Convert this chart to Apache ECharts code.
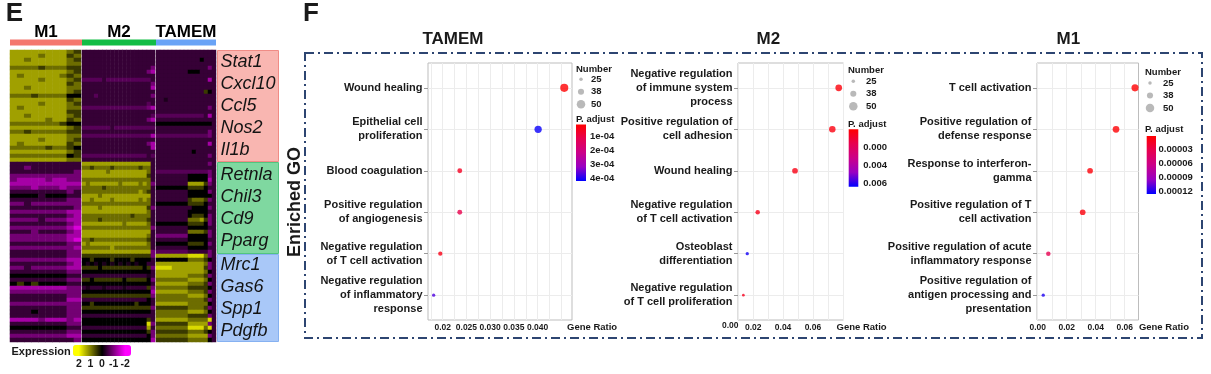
<!DOCTYPE html>
<html><head><meta charset="utf-8">
<script src="https://cdn.jsdelivr.net/npm/echarts@6/dist/echarts.min.js"></script>
<style>html,body{margin:0;padding:0;background:#fff}#c{width:1211px;height:374px}</style>
</head><body><div id="c"></div><script>
const FONT = "'Liberation Sans', Arial, Helvetica, sans-serif";
const INK = '#1a1a1a';

// ================= Panel E data =================
const clusterNames = ['M1', 'M2', 'TAMEM'];
const clusterShare = [72, 74, 60];
const clusterColors = ['#f4776e', '#12bd45', '#69a3f6'];
const geneBlockRows = [28, 23, 22];
const geneBlockGenes = [['Stat1', 'Cxcl10', 'Ccl5', 'Nos2', 'Il1b'], ['Retnla', 'Chil3', 'Cd9', 'Pparg'], ['Mrc1', 'Gas6', 'Spp1', 'Pdgfb']];
const geneBlockFill = ['#f9b6b1', '#7fd8a0', '#a9c8f8'];
const geneBlockLine = ['#f08c86', '#52c57f', '#86b1f1'];
const expressionTicks = [2, 1, 0, -1, -2];
// scaled expression
const levelOf = {'0': -1.7, '1': -1.3, '2': -0.9, 'p': -0.68, '3': -0.42, 'd': -0.22, '4': 0, '5': 0.45, '6': 0.85, '7': 1.25, '8': 1.7};

const heatM1Rows = [
"7777777765","7777677756","7767777765","7777777766","6666566655","7777777765","7677777656",
"7777677765","7777777756","7767777766","7777777765","6665666644","7777777756","7777677765",
"7677777766","7777777755","7767777765","7777767756","6666666544","7777777765","6656666655",
"7777777766","7777677765","7677777756","6666656654","7777777765","6666666645","7777777766",
"3333333333","3323333333","3333333332","2222222222","2111121122","1111111111","2221222122",
"3333333323","4444344433","3333333322","2232222222","3333333332","2222222211","3333333321",
"2222322211","3333333321","2222222210","3332333321","2222222211","2222222210","3333333322",
"2222222221","3333333322",
"3333333322","2222222211","3333333321","2232222211","3333333322","4444444433","3333333322",
"4545444433","1111111122","2222222222","3333333322","3333333311","2222222222","3333333322",
"3334333322","3333333322","1111211121","3333333322","4444444433","3333333322","2222222211",
"3333333332"
];
const heatM2Rows = [
"3333333333333333|33","3333333333333333|33","3333333333333333|33","3333333333333333|33",
"3333333333333333|32","3333333333333333|21","3333333333333333|33","ppppp3pppppppppp|p3",
"3333333333333333|32","3333333333333333|31","3333333333333333|33","333p333333333333|32",
"3333333333333333|33","3333333333333333|p3","pppppppppppppppp|21","3333333333333333|33",
"3333333333333333|3p","3333333333333333|21","3333333333333333|33","ppppppp3pppppppp|pp",
"3333333333333333|33","pppppppppppppppp|p1","3333333333333333|33","3333333333333333|21",
"3333333333333333|31","3333333333333333|33","pppppppppppppppp|3p","3333333333333333|33",
"7777777777777777|73","6656666566666656|63","7777776777777777|63","7777777777777777|53",
"6666666666666666|63","7677777776777767|62","6666656666666666|63","6666666666666676|53",
"7777677777777777|73","7767777677777767|63","6666666666666666|63","7777677777777777|52",
"7777777777777777|63","6666666666665666|63","6666566666666666|53","7777777777677777|63",
"6666666666666666|62","7777777777777777|73","7777777777777777|63","6656666666666666|53",
"7677777777777777|63","6666666766666666|63","7777777777777777|72",
"5555555555555555|52","4454444544445444|43","4d4d4d4d4d4d4d44|33","5555455555555554|52",
"4444444444444444|43","3333333333333333|d3","5545555555455555|42","4444444444444444|43",
"3d333d3333d33333|52","4444444444444444|41","5555555555555555|52","3333333333333333|43",
"4454444444444544|43","5555555555555555|52","4444444444444444|43","3333333333333333|33",
"4444444444444444|53","4444444444444444|82","3333333333333333|73","4444444444444444|52",
"3333333333333333|42","4444444444444444|41"
];
const heatTAMEMRows = [
"33333333|3333|333","33333333|3333|333","33333333|3334|333","33333333|3333|333",
"33333333|3333|323","33333333|4443|333","33333333|3333|333","33333333|3333|313",
"33333333|3333|333","33333333|3333|333","33333333|3333|543","33333333|3333|333",
"33d33333|3333|333","33333333|3333|333","33333333|3333|323","33333333|3333|333",
"pppppppp|pppp|313","33333333|3333|333","44444444|4444|443","33333333|3333|333",
"33333333|3333|323","pppppppp|pppp|p23","33333333|3333|333","33333333|3333|313",
"33333333|3333|333","33333333|3433|333","33333333|3333|323","33333333|3333|333",
"33333333|3333|323","33333333|3333|333","pppppppp|pppp|p23","33333333|4444|423",
"33333333|4444|413","33333333|7777|523","44444444|5555|433","33333333|4444|423",
"33333333|4444|443","33333333|5666|523","44444444|5555|433","33333333|3444|423",
"33333333|4444|433","33333333|4555|423","33333333|6667|523","44444444|5555|423",
"33333333|4444|433","33333333|6666|523","22222222|4444|423","33333333|4444|433",
"44444444|5555|423","33333333|4444|433","pppppppp|3333|323",
"77777777|8888|623","44444444|6666|543","77777777|7777|623","88887777|7777|523",
"77777777|7777|643","77777777|6666|523","66666666|7777|643","77777777|6666|523",
"66666666|5555|543","77777777|6666|523","66666666|7777|643","66666666|6666|523",
"77777777|6666|643","55555555|6666|523","66666666|7777|643","66666666|5555|523",
"77777777|6666|683","55555555|7777|723","66666666|8888|683","55555555|6666|543",
"66666666|7777|723","55555555|6666|643"
];

// ================= Panel F data =================
const keyCounts = [25, 38, 50];

const tamemTerms = ['Wound healing', 'Epithelial cell\nproliferation', 'Blood coagulation',
  'Positive regulation\nof angiogenesis', 'Negative regulation\nof T cell activation',
  'Negative regulation\nof inflammatory\nresponse'];
const tamemRatio = [0.0456, 0.0401, 0.0236, 0.0236, 0.0195, 0.0181];
const tamemCount = [48, 44, 32, 32, 29, 24];
const tamemPadj = [1.2e-5, 4.15e-4, 5.5e-5, 1.1e-4, 3.8e-5, 3.7e-4];
const tamemRatioTicks = [0.02, 0.025, 0.03, 0.035, 0.04];
const tamemRatioLabels = ['0.02', '0.025', '0.030', '0.035', '0.040'];
const tamemPadjRange = [1.1e-5, 4.22e-4];
const tamemPadjTicks = [1e-4, 2e-4, 3e-4, 4e-4];
const tamemPadjLabels = ['1e-04', '2e-04', '3e-04', '4e-04'];

const m2Terms = ['Negative regulation\nof immune system\nprocess', 'Positive regulation of\ncell adhesion',
  'Wound healing', 'Negative regulation\nof T cell activation', 'Osteoblast\ndifferentiation',
  'Negative regulation\nof T cell proliferation'];
const m2Ratio = [0.0773, 0.0730, 0.0480, 0.0230, 0.0160, 0.0134];
const m2Count = [41, 40, 36, 30, 24, 21];
const m2Padj = [2e-4, 3e-4, 4e-4, 5e-4, 0.0062, 6e-4];
const m2RatioTicks = [0.02, 0.04, 0.06];
const m2RatioLabels = ['0.02', '0.04', '0.06'];
const m2RatioLead = '0.00';
const m2PadjRange = [0, 0.0064];
const m2PadjTicks = [0.002, 0.004, 0.006];
const m2PadjLabels = ['0.000', '0.004', '0.006'];

const m1Terms = ['T cell activation', 'Positive regulation of\ndefense response', 'Response to interferon-\ngamma',
  'Positive regulation of T\ncell activation', 'Positive regulation of acute\ninflammatory response',
  'Positive regulation of\nantigen processing and\npresentation'];
const m1Ratio = [0.0671, 0.0540, 0.0361, 0.0310, 0.0073, 0.0038];
const m1Count = [43, 41, 36, 36, 30, 24];
const m1Padj = [2e-6, 3e-6, 5e-6, 6e-6, 3.3e-5, 1.2e-4];
const m1RatioTicks = [0, 0.02, 0.04, 0.06];
const m1RatioLabels = ['0.00', '0.02', '0.04', '0.06'];
const m1PadjRange = [1.5e-6, 1.26e-4];
const m1PadjTicks = [3e-5, 6e-5, 9e-5, 1.2e-4];
const m1PadjLabels = ['0.00003', '0.00006', '0.00009', '0.00012'];

// ================= styling / layout =================
const HEAT_COLORS = ['#ff00ff', '#ff00ff', '#bf00bf', '#800080', '#400040', '#000000', '#404000', '#808000', '#bfbf00', '#ffff00', '#ffff00'];
const PADJ_COLORS = ['#ff0000', '#e7004f', '#cb0089', '#9900c2', '#0000ff'];
const HEAT = {left: 10, top: 50, width: 206, height: 292};
function dotSize(n) { return Math.max(1.5, 1.5 + (n - 15) * 0.2); }
function f(w, s) { return w + ' ' + s + 'px ' + FONT; }

const option = {
  animation: false, backgroundColor: '#fff', textStyle: {fontFamily: FONT},
  grid: [], xAxis: [], yAxis: [], series: [], visualMap: [], graphic: {elements: []}
};
const G = option.graphic.elements;
function txt(x, y, text, font, align, extra) {
  return Object.assign({type: 'text', x: x, y: y, silent: true, z: 50,
    style: {text: text, font: font, fill: INK, align: align || 'center', verticalAlign: 'middle',
      textAlign: align || 'center', textVerticalAlign: 'middle'}}, extra || {});
}

// ---------- heatmap ----------
const heatRows = [heatM1Rows, heatM2Rows, heatTAMEMRows];
const shareTotal = clusterShare.reduce((a, b) => a + b, 0);
let cum = 0;
heatRows.forEach((rowsRaw, g) => {
  const rows = rowsRaw.map(r => r.replace(/\|/g, ''));
  const left = HEAT.left + cum / shareTotal * HEAT.width;
  const w = clusterShare[g] / shareTotal * HEAT.width - (g < heatRows.length - 1 ? 1 : 0);
  cum += clusterShare[g];
  const gi = option.grid.length;
  option.grid.push({left: left, top: HEAT.top, width: w, height: HEAT.height});
  const nCol = rows[0].length;
  option.xAxis.push({gridIndex: gi, type: 'category', data: Array.from({length: nCol}, (_, i) => i), show: false});
  option.yAxis.push({gridIndex: gi, type: 'category', data: rows.map((_, i) => i), inverse: true, show: false});
  const data = [];
  rows.forEach((row, r) => { for (let c = 0; c < row.length; c++) data.push([c, r, levelOf[row[c]]]); });
  option.series.push({type: 'heatmap', xAxisIndex: gi, yAxisIndex: gi, data: data, progressive: 0, silent: true});
});
option.visualMap.push({type: 'continuous', seriesIndex: [0, 1, 2], dimension: 2, min: -2.5, max: 2.5,
  orient: 'horizontal', inverse: true, left: 73, top: 345, itemWidth: 11, itemHeight: 58, padding: 0,
  calculable: false, hoverLink: false, inRange: {color: HEAT_COLORS}});

// cluster strip with headers
{
  const gi = option.grid.length;
  option.grid.push({left: HEAT.left, top: 39.5, width: HEAT.width, height: 6});
  option.xAxis.push({gridIndex: gi, type: 'value', min: 0, max: shareTotal, show: false});
  option.yAxis.push({gridIndex: gi, type: 'category', data: ['c'], show: false});
  clusterNames.forEach((nm, i) => option.series.push({type: 'bar', xAxisIndex: gi, yAxisIndex: gi, stack: 'strip',
    data: [clusterShare[i]], barWidth: '100%', silent: true, itemStyle: {color: clusterColors[i]},
    label: {show: true, position: 'top', distance: -1, formatter: nm, fontSize: 17, fontWeight: 'bold', color: '#000', fontFamily: FONT}}));
}
// gene blocks
{
  const gi = option.grid.length;
  const totalRows = geneBlockRows.reduce((a, b) => a + b, 0);
  option.grid.push({left: 217, top: HEAT.top, width: 62, height: HEAT.height});
  option.xAxis.push({gridIndex: gi, type: 'category', data: ['g'], show: false});
  option.yAxis.push({gridIndex: gi, type: 'value', min: 0, max: totalRows, inverse: true, show: false});
  geneBlockRows.forEach((n, i) => option.series.push({type: 'bar', xAxisIndex: gi, yAxisIndex: gi, stack: 'genes',
    data: [n], barWidth: '100%', silent: true,
    itemStyle: {color: geneBlockFill[i], borderColor: geneBlockLine[i], borderWidth: 1},
    label: {show: true, position: 'insideLeft', distance: 3.5, formatter: geneBlockGenes[i].join('\n'),
      fontSize: 18, fontStyle: 'italic', lineHeight: 22, color: '#141414', fontFamily: FONT}}));
}
// expression colour key axis
{
  const gi = option.grid.length;
  option.grid.push({left: 73, top: 345, width: 58, height: 11});
  option.xAxis.push({gridIndex: gi, type: 'value', min: -2.5, max: 2.5, inverse: true,
    axisLine: {show: false, onZero: false}, axisTick: {show: false, customValues: expressionTicks}, splitLine: {show: false},
    axisLabel: {customValues: expressionTicks, margin: 3, fontSize: 10.5, fontWeight: 'bold', color: INK, fontFamily: FONT}});
  option.yAxis.push({gridIndex: gi, type: 'value', show: false});
}
G.push(txt(11.5, 351.7, 'Expression', f('bold', 11), 'left'));

// ---------- dot plots ----------
const leadLabels = [];
function addPlot(P, L) {
  const g = option.grid.length;
  const idx = P.terms.map((_, i) => i);
  const gridVals = [];
  for (let v = L.gFrom; v <= L.xMax + 1e-9; v += L.gStep) gridVals.push(+v.toFixed(6));
  const labFont = {fontSize: 9.5, fontWeight: 'bold', color: INK, fontFamily: FONT};
  const tickFont = {fontSize: 8.5, fontWeight: 'bold', color: INK, fontFamily: FONT};
  option.grid.push({left: L.left, top: 63, width: L.width, height: 257, show: true,
    backgroundColor: '#fff', borderColor: '#bdbdbd', borderWidth: 1});
  option.xAxis.push({gridIndex: g, type: 'value', min: L.xMin, max: L.xMax, position: 'bottom',
    axisLine: {show: false, onZero: false}, axisTick: {show: false, customValues: gridVals},
    splitLine: {show: true, lineStyle: {color: '#ececec', width: 1}},
    axisLabel: Object.assign({customValues: P.xTicks, margin: 3,
      formatter: v => P.xLabels[P.xTicks.findIndex(t => Math.abs(t - v) < 1e-9)]}, tickFont),
    name: 'Gene Ratio', nameLocation: 'end', nameGap: L.nameGap,
    nameTextStyle: Object.assign({align: 'left', verticalAlign: 'top', padding: [2, 0, 0, 0]}, labFont)
  });
  if (P.xLead) leadLabels.push({axis: g, text: P.xLead, from: P.xTicks[0], shift: L.leadShift});
  option.yAxis.push({gridIndex: g, type: 'value', min: -0.6, max: P.terms.length - 0.4, inverse: true,
    axisLine: {show: false, onZero: false},
    axisTick: {show: true, length: 4, customValues: idx, lineStyle: {color: '#9a9a9a'}},
    splitLine: {show: true, lineStyle: {color: '#ececec'}},
    axisLabel: {customValues: idx, formatter: v => P.terms[Math.round(v)], margin: 5.5, fontSize: 11,
      fontWeight: 'bold', lineHeight: 14, color: INK, fontFamily: FONT, align: 'right'}
  });
  const sIdx = option.series.length;
  option.series.push({type: 'scatter', xAxisIndex: g, yAxisIndex: g, silent: true, z: 5,
    data: P.ratio.map((r, i) => [r, i, P.padj[i], P.count[i]]), symbolSize: v => dotSize(v[3])});
  option.visualMap.push({type: 'continuous', show: false, seriesIndex: sIdx, dimension: 2,
    min: P.pRange[0], max: P.pRange[1], inRange: {color: PADJ_COLORS}});

  // size key
  const kg = option.grid.length;
  option.grid.push({left: L.key.x - 6, top: L.key.y, width: 12, height: 37.5});
  option.xAxis.push({gridIndex: kg, type: 'value', min: -1, max: 1, show: false});
  option.yAxis.push({gridIndex: kg, type: 'category', data: keyCounts.map(String), inverse: true, position: 'right',
    axisLine: {show: false, onZero: false}, axisTick: {show: false}, splitLine: {show: false},
    axisLabel: Object.assign({interval: 0, margin: L.key.lab - (L.key.x + 6)}, labFont)});
  option.series.push({type: 'scatter', xAxisIndex: kg, yAxisIndex: kg, silent: true,
    data: keyCounts.map((n, i) => [0, i, n]), symbolSize: v => dotSize(v[2]), itemStyle: {color: '#a8a8a8'}});
  G.push(txt(L.key.tx, L.key.ty, 'Number', f('bold', 9.5), 'left'));

  // colour bar
  const cg = option.grid.length;
  option.grid.push({left: L.cb.x, top: L.cb.y, width: L.cb.w, height: L.cb.h});
  option.xAxis.push({gridIndex: cg, type: 'category', data: ['c'], show: false});
  option.yAxis.push({gridIndex: cg, type: 'value', min: P.pRange[0], max: P.pRange[1], inverse: true, position: 'right',
    axisLine: {show: false, onZero: false}, splitLine: {show: false},
    axisTick: {show: true, inside: true, length: 2, customValues: P.pTicks, lineStyle: {color: '#ffffff'}},
    axisLabel: Object.assign({customValues: P.pTicks, margin: L.cb.lab,
      formatter: v => P.pLabels[P.pTicks.findIndex(t => Math.abs(t - v) < 1e-12)]}, labFont)});
  option.series.push({type: 'bar', xAxisIndex: cg, yAxisIndex: cg, silent: true, barWidth: '100%',
    data: [P.pRange[1]],
    itemStyle: {color: new echarts.graphic.LinearGradient(0, 0, 0, 1,
      PADJ_COLORS.map((c, i) => ({offset: i / (PADJ_COLORS.length - 1), color: c})))}});
  G.push(txt(L.cb.tx, L.cb.ty, 'P. adjust', f('bold', 9.5), 'left'));

  G.push(txt(L.title[0], L.title[1], P.name, f('bold', 17)));
}

addPlot({name: 'TAMEM', terms: tamemTerms, ratio: tamemRatio, count: tamemCount, padj: tamemPadj,
  xTicks: tamemRatioTicks, xLabels: tamemRatioLabels, pRange: tamemPadjRange, pTicks: tamemPadjTicks, pLabels: tamemPadjLabels},
  {left: 428, width: 144, xMin: 0.01691, xMax: 0.04723, gFrom: 0.0175, gStep: 0.0025, nameGap: -5, title: [453, 39.3],
   key: {x: 581, y: 73, lab: 591, tx: 576, ty: 69}, cb: {x: 576, y: 124.5, w: 10, h: 56.5, lab: 4, tx: 576, ty: 119}});
addPlot({name: 'M2', terms: m2Terms, ratio: m2Ratio, count: m2Count, padj: m2Padj,
  xTicks: m2RatioTicks, xLabels: m2RatioLabels, xLead: m2RatioLead, pRange: m2PadjRange, pTicks: m2PadjTicks, pLabels: m2PadjLabels},
  {left: 738, width: 105.5, xMin: 0.0098, xMax: 0.0805, gFrom: 0.01, gStep: 0.01, nameGap: -7, title: [768.3, 39.3], leadShift: -23,
   key: {x: 853.3, y: 75, lab: 866, tx: 848, ty: 70.7}, cb: {x: 848.7, y: 129.3, w: 9.6, h: 57.4, lab: 5, tx: 848, ty: 124.3}});
addPlot({name: 'M1', terms: m1Terms, ratio: m1Ratio, count: m1Count, padj: m1Padj,
  xTicks: m1RatioTicks, xLabels: m1RatioLabels, pRange: m1PadjRange, pTicks: m1PadjTicks, pLabels: m1PadjLabels},
  {left: 1037, width: 101.5, xMin: -0.0005, xMax: 0.0695, gFrom: 0, gStep: 0.01, nameGap: -1, title: [1068.3, 39.3],
   key: {x: 1150, y: 76.7, lab: 1163, tx: 1145, ty: 72.7}, cb: {x: 1146.7, y: 136, w: 9.3, h: 58, lab: 2.5, tx: 1145, ty: 129}});

// ---------- frame, panel letters, side title ----------
G.push({type: 'rect', silent: true, z: 1, shape: {x: 305, y: 53, width: 897, height: 285},
  style: {fill: null, stroke: '#2d4571', lineWidth: 2, lineDash: [9, 4, 2, 4]}});
G.push(txt(14.3, 14, 'E', f('bold', 26)));
G.push(txt(311, 14, 'F', f('bold', 26)));
G.push(txt(295, 202, 'Enriched GO', f('bold', 18), 'center', {rotation: Math.PI / 2}));

const chart = echarts.init(document.getElementById('c'), null, {renderer: 'canvas'});
chart.setOption(option);
// extra leading tick text placed next to the first tick, via the axis scale
leadLabels.forEach(l => {
  const x = chart.convertToPixel({xAxisIndex: l.axis}, l.from) + l.shift;
  G.push(txt(x, 326, l.text, f('bold', 8.5)));
});
chart.setOption({graphic: {elements: G}});
</script></body></html>
